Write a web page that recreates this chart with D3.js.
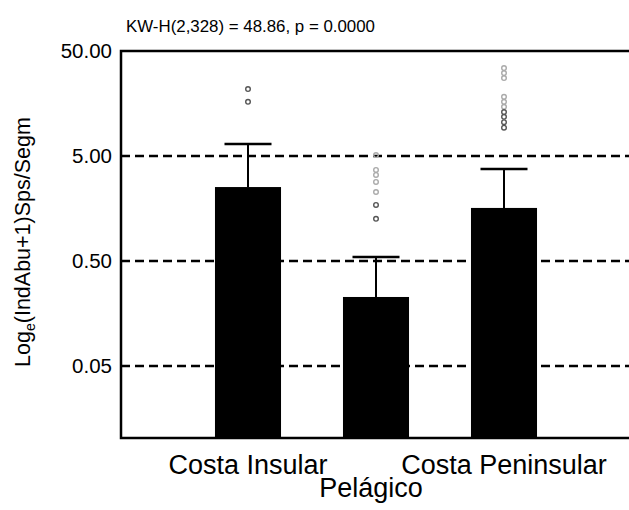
<!DOCTYPE html>
<html>
<head>
<meta charset="utf-8">
<script src="https://cdn.jsdelivr.net/npm/d3@7.9.0/dist/d3.min.js"></script>
<style>
  body { margin: 0; background: #fff; }
  text { font-family: "Liberation Sans", Arial, sans-serif; fill: #000; }
</style>
</head>
<body>
<svg id="chart" width="629" height="510"></svg>
<script>
// categories and bar values (means), error bar tops
const categories = ['Costa Insular', 'Pelágico', 'Costa Peninsular'];
const means = [2.53, 0.227, 1.6];
const upper = [6.5, 0.545, 3.76];

// outliers per category (dark circles / faint overlapped markers)
const outliersDark = [
    [21.7, 16.4],
    [1.71, 1.26],
    [13.1, 11.8, 10.5, 9.3]
];
const outliersFaint = [
    [],
    [5.1, 3.68, 3.3, 2.83, 2.27],
    [34.4, 30.8, 27.6, 18.3, 16.4, 14.7]
];

const yTicks = [50, 5, 0.5, 0.05];
const gridTicks = [5, 0.5, 0.05];

const svg = d3.select('#chart');
const plotLeft = 121, plotTop = 51, plotBottom = 438, plotRight = 640;

const x = d3.scaleBand()
    .domain(categories)
    .range([184, 568])
    .paddingInner(0.484)
    .paddingOuter(0.242);

const y = d3.scaleLog()
    .domain([0.0103, 50])
    .range([plotBottom, plotTop]);

// dashed reference lines
svg.selectAll('line.grid')
    .data(gridTicks)
    .join('line')
    .attr('class', 'grid')
    .attr('x1', plotLeft)
    .attr('x2', plotRight)
    .attr('y1', d => y(d))
    .attr('y2', d => y(d))
    .attr('stroke', '#000')
    .attr('stroke-width', 2.5)
    .attr('stroke-dasharray', '9,5');

// error bars
const cx = c => x(c) + x.bandwidth() / 2;
svg.selectAll('line.stem')
    .data(categories)
    .join('line')
    .attr('class', 'stem')
    .attr('x1', cx).attr('x2', cx)
    .attr('y1', (d, i) => y(means[i]))
    .attr('y2', (d, i) => y(upper[i]))
    .attr('stroke', '#000')
    .attr('stroke-width', 2);

svg.selectAll('line.cap')
    .data(categories)
    .join('line')
    .attr('class', 'cap')
    .attr('x1', d => cx(d) - 23.5)
    .attr('x2', d => cx(d) + 23.5)
    .attr('y1', (d, i) => y(upper[i]))
    .attr('y2', (d, i) => y(upper[i]))
    .attr('stroke', '#000')
    .attr('stroke-width', 2.5);

// bars
svg.selectAll('rect.bar')
    .data(categories)
    .join('rect')
    .attr('class', 'bar')
    .attr('x', d => x(d))
    .attr('width', x.bandwidth())
    .attr('y', (d, i) => y(means[i]))
    .attr('height', (d, i) => plotBottom - y(means[i]))
    .attr('fill', '#000');

// outliers
function drawOutliers(sets, color, cls) {
    const pts = [];
    sets.forEach((vals, i) => vals.forEach(v => pts.push({ c: categories[i], v })));
    svg.selectAll('circle.' + cls)
        .data(pts)
        .join('circle')
        .attr('class', cls)
        .attr('cx', d => cx(d.c))
        .attr('cy', d => y(d.v))
        .attr('r', 2.3)
        .attr('fill', 'none')
        .attr('stroke', color)
        .attr('stroke-width', 1.4);
}
drawOutliers(outliersFaint, '#aaa', 'faint');
drawOutliers(outliersDark, '#555', 'dark');

// frame (left, top, bottom)
svg.append('path')
    .attr('d', `M${plotRight},${plotTop}H${plotLeft}V${plotBottom}H${plotRight}`)
    .attr('fill', 'none')
    .attr('stroke', '#000')
    .attr('stroke-width', 2.5);

// y axis labels
const yAxis = d3.axisLeft(y)
    .tickValues(yTicks)
    .tickFormat(d3.format('.2f'))
    .tickSize(0)
    .tickPadding(9);
const gy = svg.append('g')
    .attr('transform', `translate(${plotLeft},0)`)
    .call(yAxis);
gy.select('.domain').remove();
gy.selectAll('text')
    .style('font-family', '"Liberation Sans", Arial, sans-serif')
    .style('font-size', '20.5px')
    .attr('fill', '#000');

// x category labels (middle one staggered below)
const xAxis = d3.axisBottom(x).tickSize(0).tickPadding(0);
const gx = svg.append('g')
    .attr('transform', `translate(0,${plotBottom})`)
    .call(xAxis);
gx.select('.domain').remove();
gx.selectAll('text')
    .style('font-family', '"Liberation Sans", Arial, sans-serif')
    .style('font-size', '27px')
    .attr('fill', '#000')
    .attr('dy', null)
    .attr('x', (d, i) => i === 1 ? -5 : 0)
    .attr('y', (d, i) => i === 1 ? 59 : 36);

// title
svg.append('text')
    .attr('x', 126)
    .attr('y', 32)
    .attr('textLength', 249)
    .attr('lengthAdjust', 'spacingAndGlyphs')
    .style('font-size', '16px')
    .text('KW-H(2,328) = 48.86, p = 0.0000');

// y axis title
const yt = svg.append('text')
    .attr('transform', 'translate(30,242) rotate(-90)')
    .attr('text-anchor', 'middle')
    .style('font-size', '21.5px');
yt.append('tspan').text('Log');
yt.append('tspan').attr('dy', 5).style('font-size', '14px').text('e');
yt.append('tspan').attr('dy', -5).text('(IndAbu+1)Sps/Segm');
</script>
</body>
</html>
